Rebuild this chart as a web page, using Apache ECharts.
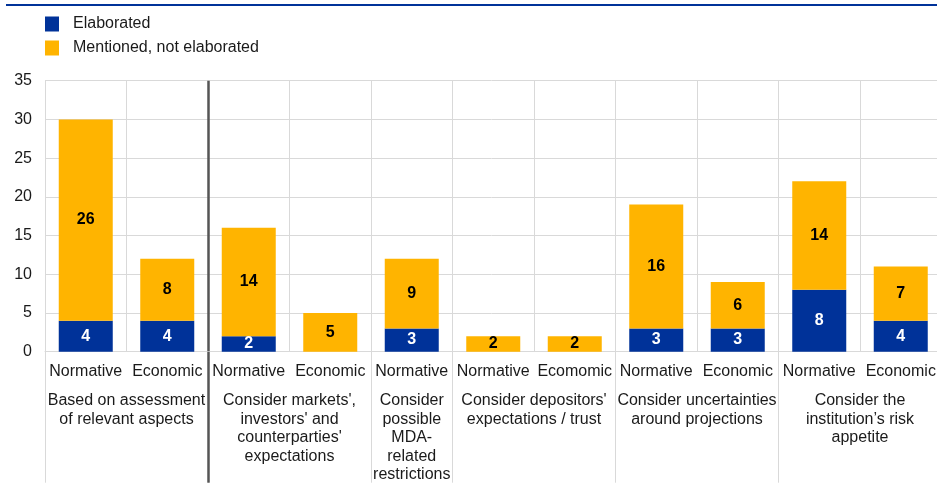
<!DOCTYPE html>
<html>
<head>
<meta charset="utf-8">
<title>Elaborated vs mentioned considerations</title>
<script src="https://cdn.jsdelivr.net/npm/echarts@6/dist/echarts.min.js"></script>
<style>
  html, body { margin: 0; padding: 0; background: #fff; }
  #chart { width: 937px; height: 495px; }
</style>
</head>
<body>
<div id="chart"></div>
<script>
// Bar categories (approach per consideration)
const categories = ['Normative', 'Economic', 'Normative', 'Economic', 'Normative',
  'Normative', 'Ecomomic', 'Normative', 'Economic', 'Normative', 'Economic'];

// Series values
const elaborated = [4, 4, 2, 0, 3, 0, 0, 3, 3, 8, 4];
const mentioned = [26, 8, 14, 5, 9, 2, 2, 16, 6, 14, 7];

// Group headings, placed on a half-category scale (23 points, 0..22)
const groupLabels = [
  '', '', 'Based on assessment\nof relevant aspects', '', '', '',
  "Consider markets',\ninvestors' and\ncounterparties'\nexpectations", '', '',
  'Consider\npossible\nMDA-\nrelated\nrestrictions', '', '',
  "Consider depositors'\nexpectations / trust", '', '', '',
  'Consider uncertainties\naround projections', '', '', '',
  'Consider the\ninstitution\u2019s risk\nappetite', '', ''
];
// Half-category points where group separators are drawn
const groupBounds = [0, 4, 8, 10, 14, 18, 22];
const sectionBound = 4;

// Y axis ticks
const yMin = 0, yMax = 35, yStep = 5;

const FONT = 'Liberation Sans, Arial, Helvetica, sans-serif';
const TXT = '#1a1a1a';
const GRID = '#d9d9d9';
const BLUE = '#003299';
const YELLOW = '#FFB400';

const halfIdx = groupLabels.map((_, i) => String(i));

const chart = echarts.init(document.getElementById('chart'), null, { renderer: 'canvas' });

const valLabel = (color) => ({
  show: true,
  position: 'inside',
  color: color,
  fontFamily: FONT,
  fontSize: 16,
  fontWeight: 'bold',
  formatter: p => (p.value ? String(p.value) : '')
});

chart.setOption({
  animation: false,
  textStyle: { fontFamily: FONT },
  graphic: [{
    type: 'rect',
    shape: { x: 6, y: 4, width: 931, height: 2 },
    style: { fill: BLUE },
    silent: true
  }],
  legend: {
    orient: 'vertical',
    left: 45,
    top: 16,
    padding: 0,
    itemWidth: 14,
    itemHeight: 15,
    itemGap: 8,
    icon: 'rect',
    textStyle: { fontFamily: FONT, fontSize: 16, color: TXT, padding: [0, 0, 0, 9] },
    data: ['Elaborated', 'Mentioned, not elaborated']
  },
  grid: {
    left: 45,
    top: 80.7,
    width: 896.5,
    height: 271,
    containLabel: false,
    outerBoundsMode: 'none'
  },
  xAxis: [
    {
      type: 'category',
      position: 'bottom',
      data: categories,
      axisLine: { show: true, lineStyle: { color: GRID, width: 1 } },
      axisTick: { show: false },
      axisLabel: { interval: 0, margin: 12, fontFamily: FONT, fontSize: 16, color: TXT },
      splitLine: { show: true, lineStyle: { color: GRID, width: 1 } }
    },
    {
      type: 'category',
      position: 'bottom',
      offset: 0,
      boundaryGap: false,
      data: halfIdx,
      axisLine: { show: false },
      axisTick: {
        show: true,
        length: 131,
        interval: (i) => groupBounds.indexOf(i) >= 0,
        lineStyle: { color: GRID, width: 1 }
      },
      axisLabel: {
        interval: 0,
        margin: 40,
        fontFamily: FONT,
        fontSize: 16,
        lineHeight: 18.5,
        color: TXT,
        align: 'center',
        formatter: (v) => groupLabels[Number(v)]
      },
      splitLine: { show: false }
    },
    {
      type: 'category',
      position: 'bottom',
      offset: 0,
      boundaryGap: false,
      data: halfIdx,
      axisLine: { show: false },
      axisLabel: { show: false },
      axisTick: {
        show: true,
        length: 131,
        interval: (i) => i === sectionBound,
        lineStyle: { color: '#555555', width: 2.5 }
      },
      splitLine: {
        show: true,
        interval: (i) => i === sectionBound,
        lineStyle: { color: '#555555', width: 2.5 }
      }
    }
  ],
  yAxis: {
    type: 'value',
    min: yMin,
    max: yMax,
    interval: yStep,
    axisLine: { show: true, lineStyle: { color: GRID, width: 1 } },
    axisTick: { show: false },
    axisLabel: { margin: 13, fontFamily: FONT, fontSize: 16, color: TXT },
    splitLine: { show: true, lineStyle: { color: GRID, width: 1 } }
  },
  series: [
    {
      name: 'Elaborated',
      type: 'bar',
      stack: 'total',
      xAxisIndex: 0,
      barWidth: 54,
      itemStyle: { color: BLUE },
      label: valLabel('#ffffff'),
      data: elaborated
    },
    {
      name: 'Mentioned, not elaborated',
      type: 'bar',
      stack: 'total',
      xAxisIndex: 0,
      barWidth: 54,
      itemStyle: { color: YELLOW },
      label: valLabel('#000000'),
      data: mentioned
    }
  ]
});
</script>
</body>
</html>
